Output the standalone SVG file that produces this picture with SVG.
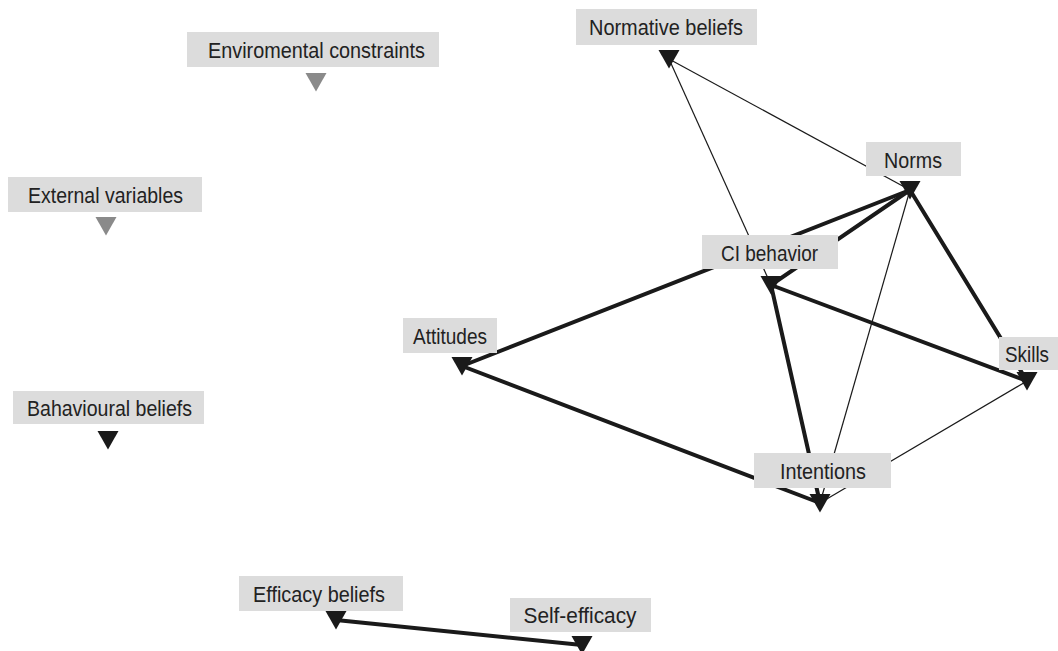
<svg xmlns="http://www.w3.org/2000/svg" width="1058" height="651" viewBox="0 0 1058 651">
<style>
.bg{fill:#ffffff}
.box{fill:#dcdcdc}
.lbl{font-family:"Liberation Sans Narrow","Liberation Sans",Arial,sans-serif;font-size:22.5px;fill:#222222;text-anchor:middle}
.thick{stroke:#1a1a1a;stroke-width:4;fill:none;stroke-linecap:round}
.thin{stroke:#1a1a1a;stroke-width:1.2;fill:none}
.tri{fill:#1a1a1a}
.tri-g{fill:#8a8a8a}
</style>
<defs>
<polygon id="tri" points="-10.5,-9 10.5,-9 0,9.5"/>
</defs>
<rect class="bg" x="0" y="0" width="1058" height="651"/>
<g id="connectors">
<line class="thin" x1="669" y1="59" x2="910" y2="190"/>
<line class="thin" x1="669" y1="59" x2="771" y2="285"/>
<line class="thick" x1="462" y1="366" x2="910" y2="190"/>
<line class="thick" x1="771" y1="285" x2="910" y2="190"/>
<line class="thin" x1="910" y1="190" x2="820" y2="503"/>
<line class="thick" x1="910" y1="190" x2="1027" y2="381"/>
<line class="thick" x1="771" y1="285" x2="1027" y2="381"/>
<line class="thick" x1="771" y1="285" x2="820" y2="503"/>
<line class="thick" x1="462" y1="366" x2="820" y2="503"/>
<line class="thin" x1="820" y1="503" x2="1027" y2="381"/>
<line class="thick" x1="336" y1="620" x2="582" y2="645"/>
</g>
<g id="node-env">
<use href="#tri" class="tri-g" x="316" y="82"/>
<rect class="box" x="187" y="32" width="252" height="35"/>
<text class="lbl" x="316.5" y="58" textLength="217" lengthAdjust="spacingAndGlyphs">Enviromental constraints</text>
</g>
<g id="node-external">
<use href="#tri" class="tri-g" x="106" y="226"/>
<rect class="box" x="8" y="177" width="194" height="35"/>
<text class="lbl" x="105.5" y="203" textLength="155" lengthAdjust="spacingAndGlyphs">External variables</text>
</g>
<g id="node-behavioural">
<use href="#tri" class="tri" x="108" y="440"/>
<rect class="box" x="13" y="391" width="191" height="33"/>
<text class="lbl" x="109.5" y="416" textLength="165" lengthAdjust="spacingAndGlyphs">Bahavioural beliefs</text>
</g>
<g id="node-normative">
<use href="#tri" class="tri" x="669" y="59"/>
<rect class="box" x="576" y="9" width="181" height="36"/>
<text class="lbl" x="666" y="35" textLength="154" lengthAdjust="spacingAndGlyphs">Normative beliefs</text>
</g>
<g id="node-norms">
<use href="#tri" class="tri" x="910" y="190"/>
<rect class="box" x="866" y="142" width="95" height="34"/>
<text class="lbl" x="913" y="167.5" textLength="58" lengthAdjust="spacingAndGlyphs">Norms</text>
</g>
<g id="node-ci">
<use href="#tri" class="tri" x="771" y="285"/>
<rect class="box" x="702" y="235" width="136" height="34"/>
<text class="lbl" x="769.5" y="260.5" textLength="97" lengthAdjust="spacingAndGlyphs">CI behavior</text>
</g>
<g id="node-attitudes">
<use href="#tri" class="tri" x="462" y="366"/>
<rect class="box" x="403" y="318" width="94" height="35"/>
<text class="lbl" x="450" y="344" textLength="74" lengthAdjust="spacingAndGlyphs">Attitudes</text>
</g>
<g id="node-skills">
<use href="#tri" class="tri" x="1027" y="381"/>
<rect class="box" x="999" y="337" width="59" height="33"/>
<text class="lbl" x="1027" y="362" textLength="44" lengthAdjust="spacingAndGlyphs">Skills</text>
</g>
<g id="node-intentions">
<use href="#tri" class="tri" x="820" y="503"/>
<rect class="box" x="754" y="453" width="137" height="35"/>
<text class="lbl" x="823" y="479" textLength="86" lengthAdjust="spacingAndGlyphs">Intentions</text>
</g>
<g id="node-efficacy">
<use href="#tri" class="tri" x="336" y="620"/>
<rect class="box" x="239" y="576" width="164" height="35"/>
<text class="lbl" x="319" y="602" textLength="132" lengthAdjust="spacingAndGlyphs">Efficacy beliefs</text>
</g>
<g id="node-selfefficacy">
<use href="#tri" class="tri" x="582" y="645"/>
<rect class="box" x="510" y="598" width="141" height="34"/>
<text class="lbl" x="580" y="623" textLength="113" lengthAdjust="spacingAndGlyphs">Self-efficacy</text>
</g>
</svg>
